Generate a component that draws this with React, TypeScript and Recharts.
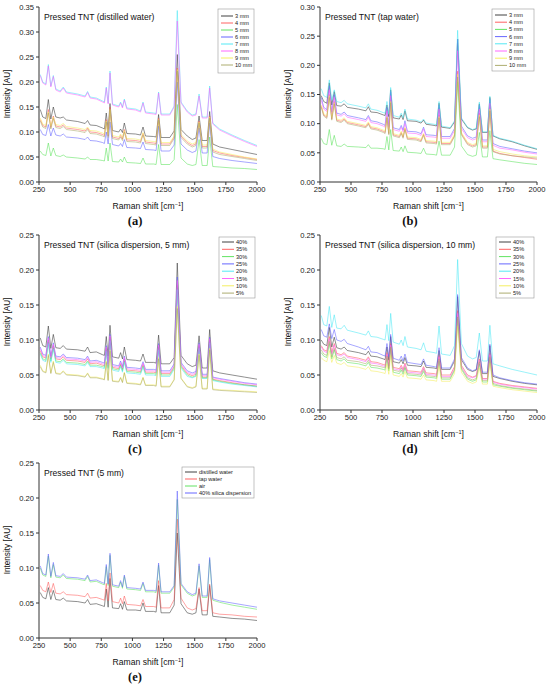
import { LineChart, Line, XAxis, YAxis } from 'recharts';

// Raman shift positions shared by all spectra (cm-1)
const SHIFT = [
  260, 280, 305, 325, 345, 365, 385, 420, 445, 470,
  560, 620, 640, 660, 710, 760, 775, 790, 805, 820,
  840, 890, 905, 920, 935, 955, 1025, 1065, 1085, 1105,
  1170, 1190, 1210, 1230, 1300, 1335, 1360, 1390, 1440, 1480,
  1510, 1535, 1560, 1600, 1620, 1645, 1700, 1800, 1900, 2000,
];

const X_TICKS = [250, 500, 750, 1000, 1250, 1500, 1750, 2000];
const Y_TICKS_35 = [0, 0.05, 0.1, 0.15, 0.2, 0.25, 0.3, 0.35];
const Y_TICKS_30 = [0, 0.05, 0.1, 0.15, 0.2, 0.25, 0.3];
const Y_TICKS_25 = [0, 0.05, 0.1, 0.15, 0.2, 0.25];

const COLORS = ['#2a2a2a', '#ff5050', '#50e050', '#5656ff', '#40e6f4', '#ff58ff', '#f4ec50', '#a4a460'];

const MM_LABELS = ['3 mm', '4 mm', '5 mm', '6 mm', '7 mm', '8 mm', '9 mm', '10 mm'];
const PCT_LABELS = ['40%', '35%', '30%', '25%', '20%', '15%', '10%', '5%'];
const MEDIUM_LABELS = ['distilled water', 'tap water', 'air', '40% silica dispersion'];

// (a) distilled water
const a3 = [0.145, 0.130, 0.127, 0.165, 0.126, 0.150, 0.130, 0.128, 0.130, 0.124, 0.121, 0.117, 0.123, 0.114, 0.113, 0.108, 0.106, 0.138, 0.105, 0.157, 0.103, 0.100, 0.106, 0.099, 0.118, 0.097, 0.096, 0.094, 0.110, 0.092, 0.091, 0.090, 0.135, 0.089, 0.089, 0.102, 0.255, 0.105, 0.092, 0.085, 0.088, 0.132, 0.083, 0.083, 0.141, 0.076, 0.070, 0.065, 0.060, 0.055];
const a4 = [0.125, 0.113, 0.110, 0.145, 0.109, 0.132, 0.112, 0.110, 0.114, 0.108, 0.105, 0.102, 0.108, 0.100, 0.099, 0.095, 0.093, 0.125, 0.092, 0.150, 0.090, 0.087, 0.093, 0.086, 0.105, 0.084, 0.083, 0.081, 0.097, 0.080, 0.078, 0.077, 0.128, 0.076, 0.076, 0.090, 0.228, 0.092, 0.079, 0.073, 0.076, 0.122, 0.071, 0.071, 0.132, 0.063, 0.058, 0.053, 0.049, 0.045];
const a5 = [0.062, 0.055, 0.053, 0.078, 0.052, 0.068, 0.053, 0.051, 0.054, 0.050, 0.048, 0.046, 0.050, 0.045, 0.045, 0.043, 0.042, 0.068, 0.042, 0.078, 0.041, 0.040, 0.046, 0.040, 0.050, 0.039, 0.038, 0.037, 0.048, 0.036, 0.036, 0.035, 0.075, 0.035, 0.035, 0.045, 0.155, 0.048, 0.036, 0.033, 0.035, 0.085, 0.033, 0.033, 0.090, 0.031, 0.030, 0.028, 0.027, 0.025];
const a6 = [0.105, 0.095, 0.093, 0.115, 0.092, 0.108, 0.094, 0.092, 0.096, 0.090, 0.088, 0.085, 0.090, 0.083, 0.082, 0.079, 0.077, 0.100, 0.076, 0.120, 0.075, 0.072, 0.077, 0.071, 0.085, 0.069, 0.068, 0.067, 0.080, 0.065, 0.064, 0.063, 0.112, 0.062, 0.062, 0.074, 0.200, 0.076, 0.064, 0.059, 0.062, 0.108, 0.058, 0.058, 0.118, 0.051, 0.047, 0.043, 0.040, 0.037];
const a7 = [0.215, 0.200, 0.196, 0.235, 0.192, 0.213, 0.186, 0.182, 0.190, 0.180, 0.176, 0.172, 0.181, 0.170, 0.168, 0.162, 0.160, 0.190, 0.158, 0.222, 0.156, 0.152, 0.160, 0.150, 0.166, 0.148, 0.146, 0.142, 0.160, 0.140, 0.138, 0.137, 0.180, 0.136, 0.136, 0.152, 0.343, 0.160, 0.142, 0.134, 0.136, 0.176, 0.130, 0.130, 0.192, 0.118, 0.106, 0.094, 0.083, 0.073];
const a8 = [0.213, 0.198, 0.194, 0.232, 0.190, 0.211, 0.184, 0.180, 0.188, 0.178, 0.174, 0.170, 0.179, 0.168, 0.166, 0.160, 0.158, 0.188, 0.156, 0.218, 0.154, 0.150, 0.158, 0.148, 0.164, 0.146, 0.144, 0.140, 0.158, 0.138, 0.136, 0.135, 0.178, 0.134, 0.134, 0.150, 0.322, 0.158, 0.140, 0.132, 0.134, 0.172, 0.128, 0.128, 0.188, 0.116, 0.104, 0.092, 0.081, 0.071];
const a9 = [0.128, 0.116, 0.113, 0.140, 0.112, 0.130, 0.115, 0.113, 0.117, 0.111, 0.108, 0.105, 0.110, 0.103, 0.102, 0.098, 0.096, 0.122, 0.095, 0.145, 0.093, 0.090, 0.096, 0.089, 0.103, 0.087, 0.086, 0.084, 0.099, 0.083, 0.081, 0.080, 0.125, 0.079, 0.079, 0.092, 0.225, 0.095, 0.082, 0.076, 0.079, 0.120, 0.074, 0.074, 0.130, 0.066, 0.060, 0.055, 0.050, 0.046];
const a10 = [0.122, 0.110, 0.107, 0.138, 0.106, 0.127, 0.109, 0.107, 0.111, 0.105, 0.102, 0.099, 0.105, 0.097, 0.096, 0.092, 0.090, 0.120, 0.089, 0.145, 0.087, 0.084, 0.090, 0.083, 0.100, 0.081, 0.080, 0.078, 0.094, 0.077, 0.075, 0.074, 0.124, 0.073, 0.073, 0.087, 0.222, 0.089, 0.076, 0.070, 0.073, 0.118, 0.068, 0.068, 0.128, 0.060, 0.055, 0.051, 0.047, 0.043];

// (b) tap water
const b3 = [0.148, 0.138, 0.135, 0.170, 0.132, 0.155, 0.131, 0.130, 0.134, 0.128, 0.125, 0.122, 0.129, 0.120, 0.119, 0.115, 0.114, 0.132, 0.112, 0.158, 0.110, 0.108, 0.115, 0.107, 0.122, 0.105, 0.104, 0.101, 0.106, 0.099, 0.097, 0.096, 0.135, 0.094, 0.092, 0.103, 0.245, 0.108, 0.093, 0.089, 0.091, 0.134, 0.085, 0.085, 0.145, 0.079, 0.074, 0.069, 0.062, 0.056];
const b4 = [0.130, 0.115, 0.111, 0.150, 0.108, 0.138, 0.106, 0.104, 0.108, 0.102, 0.098, 0.095, 0.101, 0.093, 0.091, 0.087, 0.085, 0.112, 0.083, 0.140, 0.081, 0.078, 0.085, 0.077, 0.092, 0.075, 0.074, 0.071, 0.082, 0.069, 0.068, 0.067, 0.115, 0.066, 0.066, 0.080, 0.190, 0.083, 0.066, 0.062, 0.064, 0.118, 0.060, 0.060, 0.128, 0.053, 0.049, 0.045, 0.042, 0.039];
const b5 = [0.075, 0.066, 0.064, 0.090, 0.063, 0.080, 0.062, 0.061, 0.065, 0.061, 0.060, 0.059, 0.064, 0.058, 0.058, 0.057, 0.056, 0.078, 0.055, 0.090, 0.054, 0.053, 0.060, 0.052, 0.062, 0.051, 0.050, 0.049, 0.058, 0.048, 0.047, 0.046, 0.070, 0.046, 0.046, 0.060, 0.172, 0.062, 0.047, 0.044, 0.046, 0.085, 0.043, 0.043, 0.088, 0.040, 0.038, 0.035, 0.032, 0.030];
const b6 = [0.145, 0.128, 0.124, 0.165, 0.120, 0.150, 0.118, 0.116, 0.120, 0.114, 0.110, 0.107, 0.114, 0.105, 0.103, 0.099, 0.097, 0.128, 0.095, 0.155, 0.093, 0.090, 0.097, 0.089, 0.105, 0.087, 0.086, 0.083, 0.094, 0.081, 0.080, 0.079, 0.132, 0.078, 0.078, 0.092, 0.245, 0.096, 0.079, 0.075, 0.077, 0.132, 0.072, 0.072, 0.142, 0.066, 0.061, 0.057, 0.053, 0.050];
const b7 = [0.160, 0.148, 0.145, 0.175, 0.140, 0.158, 0.138, 0.136, 0.140, 0.134, 0.130, 0.127, 0.134, 0.125, 0.123, 0.119, 0.118, 0.138, 0.116, 0.162, 0.114, 0.111, 0.118, 0.110, 0.125, 0.108, 0.106, 0.103, 0.108, 0.101, 0.099, 0.098, 0.138, 0.096, 0.093, 0.105, 0.260, 0.110, 0.094, 0.090, 0.092, 0.137, 0.086, 0.086, 0.147, 0.080, 0.075, 0.070, 0.063, 0.057];
const b8 = [0.140, 0.125, 0.121, 0.158, 0.117, 0.145, 0.115, 0.113, 0.117, 0.111, 0.107, 0.104, 0.111, 0.102, 0.100, 0.096, 0.094, 0.122, 0.092, 0.148, 0.090, 0.087, 0.094, 0.086, 0.100, 0.084, 0.083, 0.080, 0.091, 0.078, 0.077, 0.076, 0.125, 0.075, 0.075, 0.088, 0.225, 0.092, 0.076, 0.072, 0.074, 0.125, 0.069, 0.069, 0.135, 0.063, 0.058, 0.055, 0.051, 0.048];
const b9 = [0.132, 0.117, 0.113, 0.148, 0.110, 0.136, 0.108, 0.106, 0.110, 0.104, 0.100, 0.097, 0.103, 0.095, 0.093, 0.089, 0.087, 0.112, 0.085, 0.138, 0.083, 0.080, 0.087, 0.079, 0.093, 0.077, 0.076, 0.073, 0.083, 0.071, 0.070, 0.069, 0.112, 0.068, 0.068, 0.082, 0.185, 0.085, 0.068, 0.064, 0.066, 0.115, 0.062, 0.062, 0.125, 0.056, 0.052, 0.048, 0.045, 0.043];
const b10 = [0.128, 0.113, 0.109, 0.145, 0.106, 0.134, 0.104, 0.102, 0.106, 0.100, 0.096, 0.093, 0.099, 0.091, 0.089, 0.085, 0.083, 0.110, 0.081, 0.136, 0.079, 0.076, 0.083, 0.075, 0.090, 0.073, 0.072, 0.069, 0.080, 0.067, 0.066, 0.065, 0.110, 0.064, 0.064, 0.078, 0.180, 0.081, 0.064, 0.060, 0.062, 0.112, 0.058, 0.058, 0.122, 0.052, 0.048, 0.045, 0.043, 0.041];

// (c) silica dispersion, 5 mm
const c40 = [0.103, 0.092, 0.090, 0.120, 0.088, 0.108, 0.089, 0.088, 0.092, 0.087, 0.086, 0.084, 0.090, 0.082, 0.083, 0.079, 0.078, 0.105, 0.077, 0.121, 0.076, 0.074, 0.082, 0.073, 0.090, 0.072, 0.071, 0.070, 0.080, 0.068, 0.068, 0.067, 0.107, 0.066, 0.066, 0.075, 0.210, 0.078, 0.066, 0.062, 0.064, 0.106, 0.060, 0.060, 0.115, 0.056, 0.053, 0.050, 0.047, 0.044];
const c35 = [0.085, 0.076, 0.074, 0.100, 0.073, 0.092, 0.073, 0.072, 0.076, 0.071, 0.070, 0.068, 0.073, 0.066, 0.067, 0.064, 0.063, 0.088, 0.062, 0.104, 0.061, 0.059, 0.066, 0.058, 0.073, 0.057, 0.056, 0.055, 0.065, 0.054, 0.054, 0.053, 0.090, 0.052, 0.052, 0.062, 0.178, 0.064, 0.052, 0.049, 0.051, 0.092, 0.047, 0.047, 0.100, 0.044, 0.042, 0.039, 0.036, 0.034];
const c30 = [0.082, 0.073, 0.071, 0.097, 0.070, 0.089, 0.070, 0.069, 0.073, 0.068, 0.067, 0.065, 0.070, 0.064, 0.064, 0.062, 0.061, 0.086, 0.060, 0.101, 0.059, 0.057, 0.064, 0.056, 0.070, 0.055, 0.054, 0.053, 0.063, 0.052, 0.052, 0.051, 0.088, 0.050, 0.050, 0.060, 0.175, 0.062, 0.050, 0.047, 0.049, 0.090, 0.046, 0.046, 0.098, 0.043, 0.041, 0.038, 0.036, 0.034];
const c25 = [0.090, 0.080, 0.078, 0.105, 0.077, 0.096, 0.077, 0.076, 0.080, 0.075, 0.074, 0.072, 0.077, 0.070, 0.071, 0.068, 0.067, 0.092, 0.066, 0.108, 0.065, 0.063, 0.070, 0.062, 0.077, 0.061, 0.060, 0.059, 0.069, 0.058, 0.058, 0.057, 0.095, 0.056, 0.056, 0.066, 0.190, 0.068, 0.056, 0.053, 0.055, 0.096, 0.051, 0.051, 0.104, 0.047, 0.045, 0.042, 0.039, 0.037];
const c20 = [0.080, 0.071, 0.069, 0.095, 0.068, 0.087, 0.068, 0.067, 0.071, 0.066, 0.065, 0.063, 0.068, 0.062, 0.062, 0.060, 0.059, 0.084, 0.058, 0.099, 0.057, 0.055, 0.062, 0.054, 0.068, 0.053, 0.052, 0.051, 0.061, 0.050, 0.050, 0.049, 0.086, 0.048, 0.048, 0.058, 0.172, 0.060, 0.048, 0.046, 0.048, 0.088, 0.045, 0.045, 0.096, 0.042, 0.040, 0.037, 0.035, 0.033];
const c15 = [0.088, 0.078, 0.076, 0.103, 0.075, 0.094, 0.075, 0.074, 0.078, 0.073, 0.072, 0.070, 0.075, 0.068, 0.069, 0.066, 0.065, 0.090, 0.064, 0.106, 0.063, 0.061, 0.068, 0.060, 0.075, 0.059, 0.058, 0.057, 0.067, 0.056, 0.056, 0.055, 0.093, 0.054, 0.054, 0.064, 0.185, 0.066, 0.054, 0.051, 0.053, 0.094, 0.049, 0.049, 0.102, 0.046, 0.044, 0.041, 0.038, 0.036];
const c10 = [0.064, 0.056, 0.054, 0.080, 0.053, 0.070, 0.053, 0.052, 0.056, 0.051, 0.050, 0.048, 0.053, 0.047, 0.047, 0.045, 0.044, 0.070, 0.043, 0.086, 0.042, 0.041, 0.047, 0.040, 0.054, 0.039, 0.038, 0.037, 0.047, 0.036, 0.036, 0.035, 0.075, 0.034, 0.034, 0.044, 0.148, 0.046, 0.034, 0.032, 0.034, 0.080, 0.031, 0.031, 0.088, 0.030, 0.029, 0.028, 0.027, 0.026];
const c5 = [0.062, 0.055, 0.053, 0.078, 0.052, 0.068, 0.052, 0.051, 0.055, 0.050, 0.049, 0.047, 0.052, 0.046, 0.046, 0.044, 0.043, 0.068, 0.042, 0.084, 0.041, 0.040, 0.046, 0.039, 0.053, 0.038, 0.037, 0.036, 0.046, 0.035, 0.035, 0.034, 0.073, 0.033, 0.033, 0.043, 0.145, 0.045, 0.033, 0.031, 0.033, 0.078, 0.030, 0.030, 0.086, 0.029, 0.028, 0.027, 0.026, 0.025];

// (d) silica dispersion, 10 mm
const d40 = [0.100, 0.094, 0.092, 0.118, 0.090, 0.104, 0.089, 0.087, 0.090, 0.085, 0.082, 0.079, 0.084, 0.077, 0.076, 0.073, 0.072, 0.090, 0.071, 0.105, 0.069, 0.067, 0.072, 0.066, 0.075, 0.064, 0.063, 0.062, 0.070, 0.061, 0.060, 0.059, 0.085, 0.058, 0.058, 0.070, 0.162, 0.072, 0.058, 0.055, 0.057, 0.084, 0.052, 0.052, 0.092, 0.048, 0.045, 0.041, 0.038, 0.036];
const d35 = [0.092, 0.086, 0.084, 0.105, 0.082, 0.095, 0.081, 0.079, 0.082, 0.077, 0.074, 0.071, 0.076, 0.069, 0.068, 0.065, 0.064, 0.082, 0.063, 0.095, 0.061, 0.059, 0.064, 0.058, 0.067, 0.056, 0.055, 0.054, 0.062, 0.053, 0.052, 0.051, 0.078, 0.050, 0.050, 0.062, 0.142, 0.064, 0.050, 0.047, 0.049, 0.073, 0.045, 0.045, 0.081, 0.041, 0.038, 0.035, 0.033, 0.031];
const d30 = [0.082, 0.077, 0.075, 0.095, 0.073, 0.086, 0.072, 0.070, 0.073, 0.068, 0.066, 0.063, 0.068, 0.061, 0.060, 0.058, 0.057, 0.074, 0.056, 0.088, 0.054, 0.052, 0.057, 0.051, 0.060, 0.050, 0.049, 0.048, 0.055, 0.047, 0.046, 0.045, 0.070, 0.044, 0.044, 0.056, 0.130, 0.058, 0.044, 0.041, 0.043, 0.066, 0.040, 0.040, 0.074, 0.036, 0.034, 0.031, 0.029, 0.027];
const d25 = [0.115, 0.106, 0.104, 0.123, 0.102, 0.115, 0.100, 0.098, 0.101, 0.095, 0.090, 0.086, 0.091, 0.083, 0.082, 0.078, 0.077, 0.095, 0.076, 0.108, 0.074, 0.071, 0.077, 0.070, 0.080, 0.068, 0.066, 0.065, 0.073, 0.064, 0.062, 0.061, 0.089, 0.060, 0.060, 0.073, 0.165, 0.075, 0.060, 0.056, 0.058, 0.086, 0.054, 0.054, 0.094, 0.050, 0.046, 0.042, 0.039, 0.037];
const d20 = [0.135, 0.122, 0.120, 0.148, 0.118, 0.136, 0.117, 0.116, 0.121, 0.114, 0.110, 0.107, 0.113, 0.105, 0.104, 0.101, 0.100, 0.122, 0.099, 0.138, 0.097, 0.094, 0.100, 0.092, 0.105, 0.090, 0.088, 0.086, 0.096, 0.084, 0.082, 0.081, 0.120, 0.080, 0.078, 0.092, 0.215, 0.095, 0.077, 0.073, 0.075, 0.110, 0.070, 0.070, 0.121, 0.066, 0.063, 0.058, 0.054, 0.050];
const d15 = [0.090, 0.084, 0.082, 0.102, 0.080, 0.093, 0.079, 0.077, 0.080, 0.075, 0.072, 0.069, 0.074, 0.067, 0.066, 0.063, 0.062, 0.080, 0.061, 0.093, 0.059, 0.057, 0.062, 0.056, 0.065, 0.054, 0.053, 0.052, 0.060, 0.051, 0.050, 0.049, 0.076, 0.048, 0.048, 0.060, 0.138, 0.062, 0.048, 0.046, 0.048, 0.071, 0.044, 0.044, 0.079, 0.040, 0.037, 0.034, 0.032, 0.030];
const d10 = [0.075, 0.071, 0.069, 0.085, 0.068, 0.078, 0.067, 0.065, 0.068, 0.063, 0.061, 0.058, 0.062, 0.056, 0.055, 0.053, 0.052, 0.066, 0.051, 0.078, 0.050, 0.048, 0.052, 0.047, 0.055, 0.046, 0.045, 0.044, 0.050, 0.043, 0.042, 0.041, 0.062, 0.041, 0.041, 0.052, 0.120, 0.054, 0.041, 0.038, 0.040, 0.060, 0.037, 0.037, 0.067, 0.034, 0.032, 0.029, 0.027, 0.025];
const d5 = [0.086, 0.080, 0.078, 0.098, 0.076, 0.088, 0.075, 0.073, 0.076, 0.071, 0.069, 0.066, 0.071, 0.064, 0.063, 0.061, 0.060, 0.077, 0.059, 0.090, 0.057, 0.055, 0.060, 0.054, 0.062, 0.052, 0.051, 0.050, 0.058, 0.049, 0.048, 0.047, 0.073, 0.046, 0.046, 0.058, 0.133, 0.060, 0.046, 0.043, 0.045, 0.069, 0.042, 0.042, 0.076, 0.038, 0.035, 0.032, 0.030, 0.028];

// (e) 5 mm, different media
const eDistilled = [0.065, 0.058, 0.056, 0.072, 0.055, 0.068, 0.055, 0.054, 0.057, 0.053, 0.052, 0.050, 0.055, 0.048, 0.049, 0.046, 0.045, 0.070, 0.044, 0.085, 0.043, 0.042, 0.049, 0.041, 0.052, 0.040, 0.040, 0.039, 0.050, 0.038, 0.038, 0.037, 0.075, 0.036, 0.036, 0.047, 0.150, 0.049, 0.036, 0.034, 0.036, 0.070, 0.033, 0.033, 0.075, 0.031, 0.030, 0.028, 0.027, 0.025];
const eTap = [0.075, 0.068, 0.066, 0.080, 0.065, 0.078, 0.064, 0.063, 0.066, 0.062, 0.061, 0.059, 0.064, 0.057, 0.058, 0.055, 0.054, 0.078, 0.053, 0.093, 0.052, 0.050, 0.057, 0.049, 0.060, 0.048, 0.047, 0.046, 0.055, 0.045, 0.045, 0.044, 0.082, 0.043, 0.043, 0.055, 0.170, 0.057, 0.043, 0.040, 0.042, 0.072, 0.039, 0.039, 0.077, 0.036, 0.034, 0.033, 0.031, 0.030];
const eAir = [0.100, 0.090, 0.088, 0.117, 0.086, 0.105, 0.087, 0.086, 0.090, 0.085, 0.084, 0.082, 0.088, 0.080, 0.081, 0.077, 0.076, 0.102, 0.075, 0.118, 0.074, 0.072, 0.080, 0.071, 0.088, 0.070, 0.069, 0.068, 0.078, 0.066, 0.066, 0.065, 0.104, 0.064, 0.064, 0.073, 0.198, 0.076, 0.064, 0.060, 0.062, 0.103, 0.058, 0.058, 0.112, 0.054, 0.051, 0.047, 0.044, 0.041];
const eSilica = [0.103, 0.092, 0.090, 0.120, 0.088, 0.108, 0.089, 0.088, 0.092, 0.087, 0.086, 0.084, 0.090, 0.082, 0.083, 0.079, 0.078, 0.105, 0.077, 0.121, 0.076, 0.074, 0.082, 0.073, 0.090, 0.072, 0.071, 0.070, 0.080, 0.068, 0.068, 0.067, 0.107, 0.066, 0.066, 0.075, 0.210, 0.078, 0.066, 0.062, 0.064, 0.106, 0.060, 0.060, 0.115, 0.056, 0.053, 0.050, 0.047, 0.044];

const FONT = '"Liberation Sans", Arial, sans-serif';
const AXIS = '#333';

interface LegendBox { x: number; y: number; w: number; h: number; row0: number; pitch: number }

interface PanelProps {
  left: number;
  top: number;
  plotLeft: number;
  marginRight: number;
  yLabelX: number;
  title: string;
  yTicks: number[];
  labels: string[];
  values: number[][];
  legend: LegendBox;
  letter: string;
}

function Panel({ left, top, plotLeft, marginRight, yLabelX, title, yTicks, labels, values, legend, letter }: PanelProps) {
  const W = 275;
  const H = 228;
  const yMax = yTicks[yTicks.length - 1];
  const rows = SHIFT.map((x, i) => {
    const r: Record<string, number> = { x };
    values.forEach((v, k) => { r['s' + k] = v[i]; });
    return r;
  });
  const plotCenter = (plotLeft + W - marginRight) / 2;
  const tickStyle = { fontSize: 7.6, fill: '#222', fontFamily: FONT };

  return (
    <div style={{ position: 'absolute', left, top, width: W, height: H }}>
      <LineChart width={W} height={H} data={rows} margin={{ top: 7, right: marginRight, bottom: 32, left: 8 }}>
        <XAxis dataKey="x" type="number" domain={[250, 2000]} ticks={X_TICKS} allowDataOverflow
          tick={tickStyle} tickSize={3} height={14} stroke={AXIS} interval={0} />
        <XAxis xAxisId="top" orientation="top" dataKey="x" type="number" domain={[250, 2000]}
          ticks={X_TICKS} tickFormatter={() => ''} tickSize={2} mirror height={0} stroke={AXIS} interval={0} />
        <YAxis type="number" domain={[0, yMax]} ticks={yTicks} allowDataOverflow
          tickFormatter={(v: number) => v.toFixed(2)} tick={tickStyle} tickSize={3}
          width={plotLeft - 8} stroke={AXIS} interval={0} />
        <YAxis yAxisId="right" orientation="right" type="number" domain={[0, yMax]} ticks={yTicks}
          tickFormatter={() => ''} tickSize={2} mirror width={0} stroke={AXIS} interval={0} />
        {values.map((_, k) => (
          <Line key={k} dataKey={'s' + k} type="linear" stroke={COLORS[k]} strokeWidth={0.7}
            strokeOpacity={0.75} dot={false} isAnimationActive={false} />
        ))}
      </LineChart>

      <div style={{ position: 'absolute', left: plotLeft + 5, top: 12, fontFamily: FONT, fontSize: 8.6, color: '#111', whiteSpace: 'nowrap', lineHeight: '10px' }}>
        {title}
      </div>

      <div style={{ position: 'absolute', left: yLabelX - 40, top: 89, width: 80, textAlign: 'center', transform: 'rotate(-90deg)',
        fontFamily: FONT, fontSize: 8.2, color: '#111', lineHeight: '10px', whiteSpace: 'nowrap' }}>
        Intensity [AU]
      </div>

      <div style={{ position: 'absolute', left: plotCenter - 60, top: 201, width: 120, textAlign: 'center',
        fontFamily: FONT, fontSize: 8.6, color: '#111', lineHeight: '10px', whiteSpace: 'nowrap' }}>
        Raman shift [cm<sup style={{ fontSize: 5.5, verticalAlign: 'top', lineHeight: '6px' }}>−1</sup>]
      </div>

      <div style={{ position: 'absolute', left: 110, top: 214, width: 50, textAlign: 'center',
        fontFamily: '"Liberation Serif", "DejaVu Serif", serif', fontSize: 12.5, fontWeight: 'bold', color: '#111', lineHeight: '14px' }}>
        ({letter})
      </div>

      <svg width={W} height={H} style={{ position: 'absolute', left: 0, top: 0, pointerEvents: 'none' }}>
        <rect x={legend.x} y={legend.y} width={legend.w} height={legend.h} fill="#fff" stroke="#999" strokeWidth={0.6} />
        {labels.map((name, k) => {
          const y = legend.row0 + k * legend.pitch;
          return (
            <g key={name}>
              <line x1={legend.x + 3} x2={legend.x + 15} y1={y} y2={y} stroke={COLORS[k]} strokeWidth={0.9} />
              <text x={legend.x + 17} y={y + 2} fontSize={5.6} fontFamily={FONT} fill="#222">{name}</text>
            </g>
          );
        })}
      </svg>
    </div>
  );
}

export default function App() {
  return (
    <div style={{ position: 'absolute', left: 0, top: 0, width: 550, height: 689, background: '#fff', overflow: 'hidden' }}>
      <Panel left={0} top={0} plotLeft={39} marginRight={18} yLabelX={8}
        title="Pressed TNT (distilled water)" yTicks={Y_TICKS_35} labels={MM_LABELS}
        values={[a3, a4, a5, a6, a7, a8, a9, a10]}
        legend={{ x: 218, y: 9, w: 36, h: 64, row0: 16, pitch: 7 }} letter="a" />
      <Panel left={275} top={0} plotLeft={45} marginRight={13} yLabelX={14}
        title="Pressed TNT (tap water)" yTicks={Y_TICKS_30} labels={MM_LABELS}
        values={[b3, b4, b5, b6, b7, b8, b9, b10]}
        legend={{ x: 217, y: 9, w: 42, h: 62, row0: 15, pitch: 7.2 }} letter="b" />
      <Panel left={0} top={228} plotLeft={39} marginRight={18} yLabelX={8}
        title="Pressed TNT (silica dispersion, 5 mm)" yTicks={Y_TICKS_25} labels={PCT_LABELS}
        values={[c40, c35, c30, c25, c20, c15, c10, c5]}
        legend={{ x: 219, y: 9, w: 36, h: 61, row0: 14, pitch: 7.3 }} letter="c" />
      <Panel left={275} top={228} plotLeft={45} marginRight={13} yLabelX={14}
        title="Pressed TNT (silica dispersion, 10 mm)" yTicks={Y_TICKS_25} labels={PCT_LABELS}
        values={[d40, d35, d30, d25, d20, d15, d10, d5]}
        legend={{ x: 221, y: 9, w: 38, h: 61, row0: 14, pitch: 7.3 }} letter="d" />
      <Panel left={0} top={456} plotLeft={39} marginRight={18} yLabelX={8}
        title="Pressed TNT (5 mm)" yTicks={Y_TICKS_25} labels={MEDIUM_LABELS}
        values={[eDistilled, eTap, eAir, eSilica]}
        legend={{ x: 182, y: 11, w: 72, h: 31, row0: 16, pitch: 7 }} letter="e" />
    </div>
  );
}
